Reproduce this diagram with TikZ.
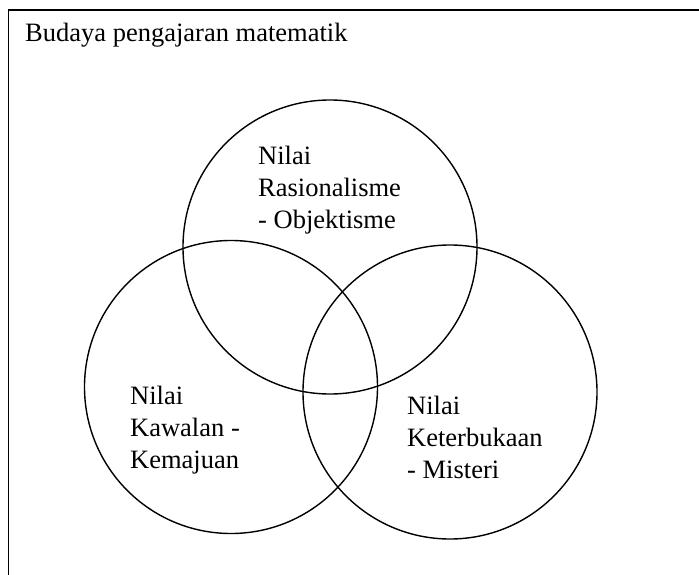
\documentclass[tikz,border=0pt]{standalone}
\usepackage{fontspec}
\setmainfont{Liberation Serif}
\begin{document}
\begin{tikzpicture}[x=1pt,y=-1pt,
  ring/.style={circle,draw,line width=1.4pt,inner sep=0pt,minimum size=#1},
  lbl/.style={anchor=base west,align=left,inner sep=0pt,font=\fontsize{26.5}{31.6}\selectfont},
  frame/.style={line width=1.6pt}]
\useasboundingbox (0,0) rectangle (699,575);
\coordinate (tl) at (8.5,10);
\coordinate (tr) at (699,10);
\coordinate (bl) at (8.5,575);
\draw[frame] (tr) -- (tl) -- (bl);
\node[ring=294pt] (ctop) at (330,247) {};
\node[ring=293pt] (cleft) at (231,387) {};
\node[ring=294pt] (cright) at (450,392) {};
\node[lbl] (header) at (25,42) {Budaya pengajaran matematik};
\node[lbl] (ttop) at (258,228) {Nilai\\Rasionalisme\\- Objektisme};
\node[lbl] (tleft) at (130,468) {Nilai\\Kawalan -\\Kemajuan};
\node[lbl] (tright) at (407,478) {Nilai\\Keterbukaan\\- Misteri};
\end{tikzpicture}
\end{document}
